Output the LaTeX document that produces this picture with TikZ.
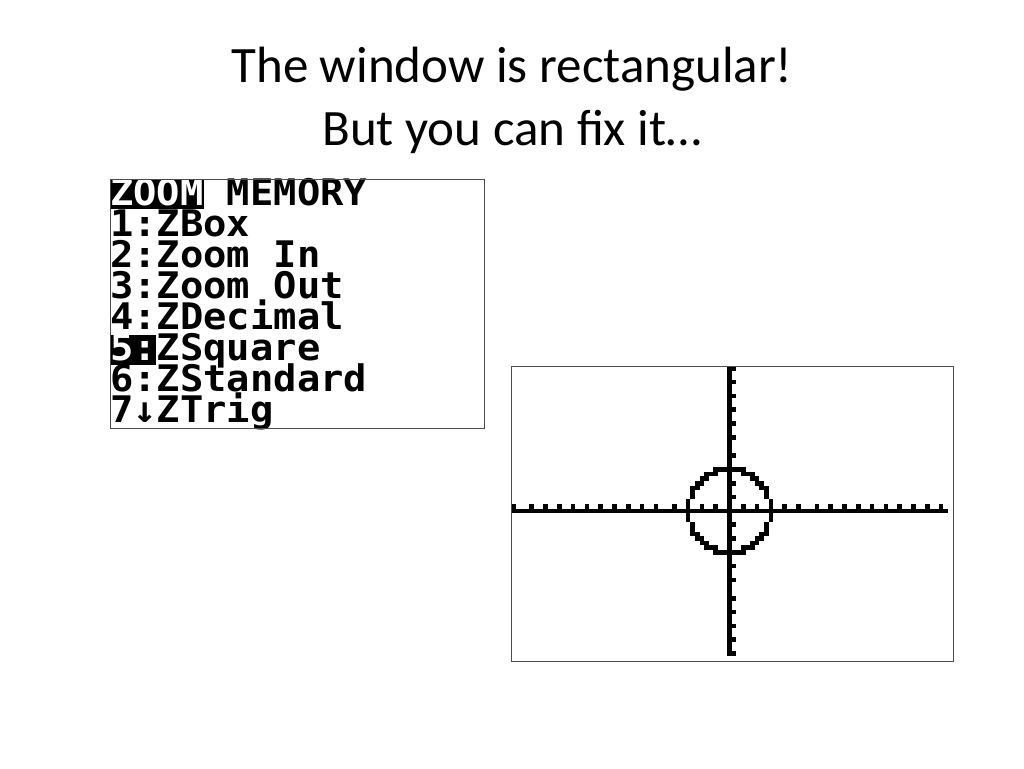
\documentclass[tikz,border=0pt]{standalone}
\usepackage{fontspec}
\setmainfont{Carlito}
\newfontfamily\calcfont[FakeStretch=1.06]{DejaVu Sans Mono}

\tikzset{
  title/.style={anchor=base, inner sep=0pt, font=\fontsize{51}{60}\selectfont},
  menuline/.style={anchor=base west, inner sep=0pt, font=\calcfont\bfseries\fontsize{36.6}{38}\selectfont},
  screen/.style={draw=black!70, line width=0.8pt},
}

\begin{document}
\begin{tikzpicture}[x=1pt,y=-1pt]
    \useasboundingbox (0,0) rectangle (1024,768);

    % title
    \node[title] (title1) at (512,82) {The window is rectangular!};
    \node[title] (title2) at (512,145) {But you can fix it…};

    % zoom menu screen
    \fill (110,179) rectangle (204,209);
    \fill (110,335) rectangle (156,365);
    \foreach \t [count=\i from 0] in {{\textcolor{white}{ZOOM} MEMORY}, 1:ZBox, 2:Zoom In, 3:Zoom Out,
            4:ZDecimal, {\textcolor{white}{5:}ZSquare}, 6:ZStandard, 7↓ZTrig}
        \node[menuline] (row\i) at (110,{205+31.1*\i}) {\t};
    \draw[screen] (110,179) rectangle (484,428);

    % graph screen, one calculator pixel is 4.6
    \fill (511,{366+4.6*31}) rectangle ({511+4.6*95},{366+4.6*32});
    \fill ({511+4.6*47},366) rectangle ({511+4.6*48},{366+4.6*63});
    \foreach \c in {0,4,7,10,13,16,19,22,25,28,31,35,38,41,44,50,53,56,59,62,66,69,72,75,78,81,84,87,90,93}
        \fill ({511+4.6*\c},{366+4.6*30}) rectangle ++(4.6,4.6);
    \foreach \r in {0,3,6,9,12,15,19,22,25,28,34,37,40,43,46,50,53,56,59,62}
        \fill ({511+4.6*48},{366+4.6*\r}) rectangle ++(4.6,4.6);
    \foreach \a in {0,4,...,356}
        \fill ({511+4.6*(47+round(9*cos(\a)))},{366+4.6*(31-round(9*sin(\a)))}) rectangle ++(4.6,4.6);
    \draw[screen] (511,366) rectangle (953,661);
\end{tikzpicture}
\end{document}
